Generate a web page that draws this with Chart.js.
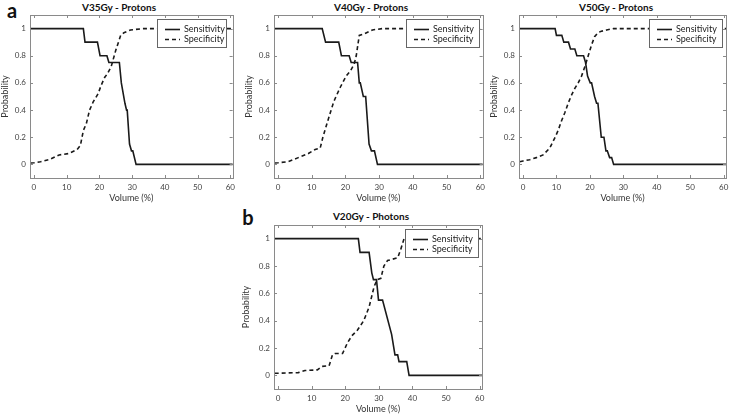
<!DOCTYPE html>
<html>
<head>
<meta charset="utf-8">
<script src="https://cdn.jsdelivr.net/npm/chart.js@4.4.1/dist/chart.umd.min.js"></script>
<style>
  body { margin: 0; background: #fff; }
  #wrap { position: relative; width: 734px; height: 414px; overflow: hidden; font-family: Lato, sans-serif; }
  canvas { position: absolute; }
  .ttl { position: absolute; transform: translate(-50%, -50%); font-weight: bold; font-size: 10px; color: #111; white-space: nowrap; }
  .tag { position: absolute; transform: translate(-50%, -50%); font-weight: bold; font-size: 20px; color: #111; }
</style>
</head>
<body>
<div id="wrap">
  <div class="tag" style="left:12px; top:10px;">a</div>
  <div class="tag" style="left:248px; top:217px;">b</div>
  <div class="ttl" style="left:119px; top:7px;">V35Gy - Protons</div>
  <div class="ttl" style="left:371px; top:7px;">V40Gy - Protons</div>
  <div class="ttl" style="left:616px; top:7px;">V50Gy - Protons</div>
  <div class="ttl" style="left:371px; top:216px;">V20Gy - Photons</div>
  <canvas id="v35" width="240" height="205" style="left:0px; top:0px;"></canvas>
  <canvas id="v40" width="246" height="205" style="left:244px; top:0px;"></canvas>
  <canvas id="v50" width="245" height="205" style="left:489px; top:0px;"></canvas>
  <canvas id="v20" width="249" height="214" style="left:241px; top:200px;"></canvas>
</div>
<script>
// tick labels
const xTicks = [0, 10, 20, 30, 40, 50, 60];
const yTicks = [0, 0.2, 0.4, 0.6, 0.8, 1];

// V35Gy - Protons
const v35SensX = [-1, 15.1, 15.6, 19.4, 20.2, 22.3, 22.9, 26.1, 26.7, 27.8, 28.3, 28.5, 29.2, 29.8, 30.2, 31.2, 61];
const v35SensY = [1, 1, 0.9, 0.9, 0.8, 0.8, 0.75, 0.75, 0.6, 0.45, 0.4, 0.4, 0.15, 0.1, 0.1, 0, 0];
const v35SpecX = [-1, 0, 2, 4.8, 7.7, 10.7, 13.2, 14.2, 15.1, 16, 17, 18.1, 19.6, 20.5, 21.6, 22.5, 23.6, 25, 26.5, 27.5, 29.5, 33.5, 38, 61];
const v35SpecY = [0.01, 0.012, 0.02, 0.037, 0.07, 0.08, 0.11, 0.14, 0.25, 0.3, 0.4, 0.46, 0.52, 0.58, 0.64, 0.67, 0.72, 0.84, 0.95, 0.97, 0.99, 1, 1, 1];

// V40Gy - Protons
const v40SensX = [-1, 13.1, 14.1, 18.0, 18.8, 21.1, 21.7, 23.6, 24.1, 24.4, 25.3, 26.0, 27.0, 27.7, 28.6, 29.5, 61];
const v40SensY = [1, 1, 0.9, 0.9, 0.8, 0.8, 0.75, 0.75, 0.6, 0.6, 0.5, 0.5, 0.15, 0.1, 0.1, 0, 0];
const v40SpecX = [-1, 0, 3, 6, 9, 11, 12.5, 13.3, 14.5, 15.5, 16.5, 17.2, 18.5, 20.2, 21.5, 22.6, 23.2, 24.1, 25.5, 28, 31, 61];
const v40SpecY = [0.01, 0.012, 0.02, 0.05, 0.08, 0.11, 0.12, 0.2, 0.3, 0.38, 0.46, 0.5, 0.57, 0.65, 0.69, 0.74, 0.8, 0.95, 0.96, 0.99, 1, 1];

// V50Gy - Protons
const v50SensX = [-1, 9.6, 10.0, 11.6, 12.2, 13.6, 14.2, 15.5, 16.1, 18.1, 18.7, 19.3, 20.1, 20.5, 21.4, 22.0, 22.4, 23.4, 24.2, 24.8, 25.2, 25.9, 26.5, 27.1, 61];
const v50SensY = [1, 1, 0.95, 0.95, 0.9, 0.9, 0.85, 0.85, 0.8, 0.8, 0.75, 0.65, 0.6, 0.6, 0.5, 0.45, 0.45, 0.2, 0.2, 0.1, 0.1, 0.05, 0.05, 0, 0];
const v50SpecX = [-1, 0, 2, 4, 6, 8, 9.6, 10.5, 11.5, 12.5, 13.5, 14.5, 15.5, 16.5, 17.5, 18.5, 19.5, 20.5, 21.4, 22.4, 23.4, 25, 27, 61];
const v50SpecY = [0.02, 0.025, 0.035, 0.05, 0.07, 0.12, 0.2, 0.25, 0.32, 0.38, 0.45, 0.51, 0.56, 0.6, 0.65, 0.72, 0.8, 0.88, 0.94, 0.97, 0.98, 0.99, 1, 1];

// V20Gy - Photons
const v20SensX = [-1, 23.9, 24.4, 27.1, 27.9, 28.4, 29.3, 29.9, 31.1, 33.8, 34.8, 35.6, 36.0, 38.3, 39.0, 61];
const v20SensY = [1, 1, 0.9, 0.9, 0.75, 0.7, 0.7, 0.55, 0.55, 0.3, 0.15, 0.15, 0.1, 0.1, 0, 0];
const v20SpecX = [-1, 0, 6, 8, 11.7, 13, 15.2, 16.2, 17, 19.2, 20.7, 22, 23.6, 25.5, 27.1, 28.6, 29.5, 30.6, 31.5, 32.6, 35.6, 36.5, 37.5, 39, 61];
const v20SpecY = [0.015, 0.015, 0.02, 0.035, 0.04, 0.065, 0.07, 0.15, 0.16, 0.16, 0.24, 0.29, 0.33, 0.4, 0.5, 0.65, 0.7, 0.71, 0.8, 0.84, 0.86, 0.92, 1, 1, 1];

Chart.defaults.font.family = "Lato";

// box round the plot + small inward ticks
const frame = {
  id: "frame",
  afterDraw(chart) {
    const { ctx, chartArea: a, scales } = chart;
    ctx.save();
    ctx.strokeStyle = "#8a8a8a";
    ctx.lineWidth = 1;
    ctx.strokeRect(Math.round(a.left) + 0.5, Math.round(a.top) + 0.5, Math.round(a.right - a.left), Math.round(a.bottom - a.top));
    ctx.beginPath();
    xTicks.forEach((v) => {
      const px = Math.round(scales.x.getPixelForValue(v)) + 0.5;
      ctx.moveTo(px, a.bottom); ctx.lineTo(px, a.bottom - 3);
      ctx.moveTo(px, a.top); ctx.lineTo(px, a.top + 3);
    });
    yTicks.forEach((v) => {
      const py = Math.round(scales.y.getPixelForValue(v)) + 0.5;
      ctx.moveTo(a.left, py); ctx.lineTo(a.left + 3, py);
      ctx.moveTo(a.right, py); ctx.lineTo(a.right - 3, py);
    });
    ctx.stroke();
    ctx.restore();
  },
};

// legend box in the top right corner of the plot
const legendBox = {
  id: "legendBox",
  afterDatasetsDraw(chart, args, opts) {
    const { ctx, chartArea: a } = chart;
    const w = opts.width, h = 28;
    const x = Math.round(a.right - opts.inset - w), y = Math.round(a.top + 4);
    ctx.save();
    ctx.fillStyle = "#fff";
    ctx.fillRect(x, y, w, h);
    ctx.strokeStyle = "#666";
    ctx.lineWidth = 1;
    ctx.strokeRect(x + 0.5, y + 0.5, w, h);
    chart.data.datasets.forEach((ds, i) => {
      const ly = y + 10.5 + i * 10;
      ctx.setLineDash(ds.borderDash || []);
      ctx.strokeStyle = ds.borderColor;
      ctx.lineWidth = ds.borderWidth;
      ctx.beginPath();
      ctx.moveTo(x + 8, ly);
      ctx.lineTo(x + 23, ly);
      ctx.stroke();
      ctx.setLineDash([]);
      ctx.fillStyle = "#222";
      ctx.font = "9px Lato";
      ctx.textBaseline = "middle";
      ctx.fillText(ds.label, x + 27, ly);
    });
    ctx.restore();
  },
};

function points(xs, ys) {
  return xs.map((x, i) => ({ x: x, y: ys[i] }));
}

function panel(id, sensX, sensY, specX, specY, cfg) {
  return new Chart(document.getElementById(id), {
    type: "line",
    data: {
      datasets: [
        {
          label: "Sensitivity",
          data: points(sensX, sensY),
          borderColor: "#1a1a1a",
          borderWidth: 1.6,
          pointRadius: 0,
          tension: 0,
        },
        {
          label: "Specificity",
          data: points(specX, specY),
          borderColor: "#1a1a1a",
          borderWidth: 1.6,
          borderDash: [4, 3],
          pointRadius: 0,
          tension: 0,
        },
      ],
    },
    options: {
      responsive: false,
      animation: false,
      clip: 0,
      layout: { padding: { top: cfg.top, right: cfg.right, left: 0, bottom: 0 } },
      plugins: {
        legend: { display: false },
        title: { display: false },
        tooltip: { enabled: false },
        legendBox: { width: cfg.legW, inset: cfg.legInset },
      },
      scales: {
        x: {
          type: "linear",
          min: -1.2,
          max: 60.7,
          afterBuildTicks: (s) => { s.ticks = xTicks.map((v) => ({ value: v })); },
          afterFit: (s) => { s.height = cfg.xHeight; },
          grid: { display: false, drawTicks: false },
          border: { display: false },
          ticks: { padding: 5, color: "#444", font: { size: 8 }, maxRotation: 0 },
          title: { display: true, text: "Volume (%)", color: "#333", font: { size: 9 }, padding: { top: 0, bottom: cfg.xTitlePad } },
        },
        y: {
          min: -0.1,
          max: 1.1,
          afterBuildTicks: (s) => { s.ticks = yTicks.map((v) => ({ value: v })); },
          afterFit: (s) => { s.width = cfg.yWidth; },
          grid: { display: false, drawTicks: false },
          border: { display: false },
          ticks: { padding: 4, color: "#444", font: { size: 8 }, callback: (v) => String(Math.round(v * 10) / 10) },
          title: { display: true, text: "Probability", color: "#333", font: { size: 9 }, padding: 0 },
        },
      },
    },
    plugins: [legendBox, frame],
  });
}

panel("v35", v35SensX, v35SensY, v35SpecX, v35SpecY, { top: 15, right: 2, yWidth: 30, xHeight: 27, xTitlePad: 2, legW: 69, legInset: 7 });
panel("v40", v40SensX, v40SensY, v40SpecX, v40SpecY, { top: 15, right: 7, yWidth: 30, xHeight: 27, xTitlePad: 2, legW: 73, legInset: 4 });
panel("v50", v50SensX, v50SensY, v50SpecX, v50SpecY, { top: 15, right: 8, yWidth: 30, xHeight: 27, xTitlePad: 2, legW: 73, legInset: 4 });
panel("v20", v20SensX, v20SensY, v20SpecX, v20SpecY, { top: 25, right: 8, yWidth: 33, xHeight: 25, xTitlePad: 0, legW: 73, legInset: 4 });
</script>
</body>
</html>
